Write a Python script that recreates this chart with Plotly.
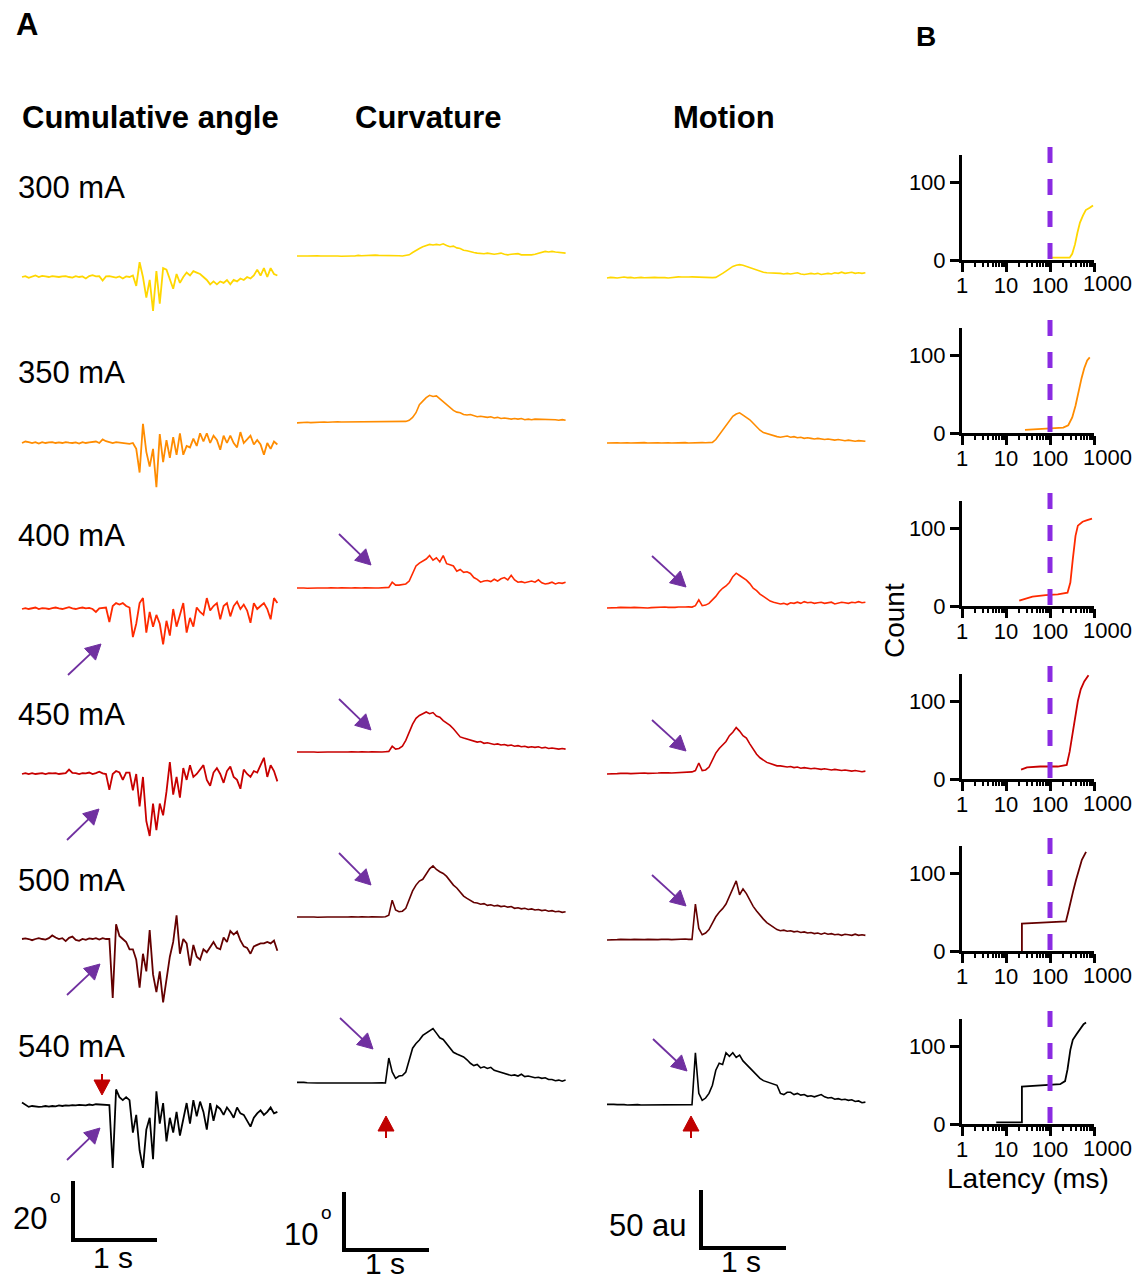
import math
import plotly.graph_objects as go

W, H = 1144, 1283
DT = 0.04  # sampling step of the traces (s)

currents = ["300 mA", "350 mA", "400 mA", "450 mA", "500 mA", "540 mA"]
colors = ["#FFD700", "#FF8C00", "#FF2A00", "#C80000", "#640000", "#000000"]

# ---------------- Panel A: cumulative angle (deg) ----------------
angle_300 = [0, 0.3, -0.3, 0.2, 0.5, 0, 0.4, 0.2, 0, 0.3, 0.1, 0, 0.2, 0.3, 0, -0.2, 0.3, 0, 0.2, -0.5,
             0.3, 0.6, 0.2, 0.3, -1.2, 0.2, 0.3, 0, -0.2, 0.2, -0.5, 0.2, 0, 0.5,
             -3, 5, 0, -7, -1, -11.5, 2, -9, 3, 2.5, -1, -4, 1, -2, 0, 1.5, 0.5, 2, 1.5, 1, 0, -1, -2.5,
             -1.5, -2.5, -1.5, -2, -1, -2.5, -1, -1.5, -0.5, -1, 0, -0.5, 0.5, 2.5, 0.5, 3, 0, 3, 1, 0.5]
angle_350 = [0, 0.5, 0.3, 0, 0.3, -0.2, 0.3, 0, 0.2, 0.3, 0, 0.2, 0, 0.3, 0.1, 0, 0.2, -0.2, 0.3, 0,
             0.2, 0.3, 0.5, 0, 1.2, 0.6, 0.3, 0, 0.3, 0.2, 0, 0, -0.3,
             0, -2, -10, 6.5, -3, -8, -2, -15, 3, -6.5, 1, -5, 2, -4, 3.3, -4, -1, -1.5, 1.5, -1, 3.3,
             0.5, 3.3, 0, 2.5, 1, -2.3, 2.5, 0, 2.5, 0, -1.5, 3.7, 0, 1.2, 2.5, -0.5, 1, -0.5, -4, 0,
             -2, 0.5, -0.5]
angle_400 = [0, 0.3, 0, 0.3, 0.5, 0, 0.3, 0.2, 0, 0.3, 0.5, 0.2, 0, 0.3, 0.6, 0.2, 0, 0.3, 0.5, 0.2,
             0.4, 0, -1, 0.2, 0.3, 0.5,
             -4.4, 1, 2, 1.5, 2, 1, 0.5, -9.5, -5, 2, 3.7, -8, -1, -6, -2, -5, -12, -4, -9, 0, -6, -2,
             2, -8, -3, -6, 0.5, -1, -2, 3.7, -0.5, 1, 2, -3.5, 1, 2, -2.5, 1, 2.5, 0, 1.5, -0.5, -4.7,
             2, 0, 1, 2, 0, -3.5, 3.7, 2]
angle_450 = [0, 0.3, 0, 0.3, 0, 0.2, 0.3, 0, 0.3, 0.2, 0.3, 0, 0.2, 0.3, 1.5, 0.4, 0.3, 0, 0.3, 0.2,
             0.5, 0, 0.3, 0.8, 0.2, 0,
             -5.4, 0, 1, 0.5, -2, 0.5, 0.5, -5.5, 0, -11, -1, -16, -21, -10, -19, -10, -14, -6, 4, -7,
             -1, -8, 2, -2, 3, -1, 0, 1.5, 3, -2, -4, 0.5, 2, 0, -3, 1, 2.5, -1, -2, -5, 1.5, 0, -1, 1,
             0.5, 3, 5.5, -1, 3, 1, -2.5]
angle_500 = [0, 0.2, 0, -0.4, 0, 0.3, 0, -0.2, 0.3, 1.2, 0.5, 0, 0.3, -0.7, 0.4, 0.8, -0.3, -0.6, 0,
             -0.3, 0.2, 0, 0.3, -0.2, 0.3, 0,
             0, -20, 5, 1, 0, -1, -3.5, -3.5, -7, -16.5, -5, -11, 3, -12, -18, -11, -21.5, -13, -6, -1,
             8, -5, 0, -1.5, -9, -2, -6, -7, -3.5, -4.5, -2.5, -1, -3, -3.5, 0.5, -1, 2.7, 1.5, 2.5,
             -0.5, -2.5, -3, -5, -2.5, -2, -1.5, -1.5, -1, -1.5, -0.5, -4]
angle_540 = [1.2, 0.5, -0.3, 0, -0.2, -0.3, -0.2, 0, -0.2, 0, -0.1, 0.2, 0, 0.2, 0.1, 0.3, 0.2, 0.4,
             0.3, 0.2, 0.5, 0.3, 0.6, 0.5, 0.3, 0.4,
             0.3, -21, 5.6, 3, 2, 3, 2, -9, -3, -15, -21, -8, -4, -18, 5, -6, 1, -12, -4, -9, -2, -10,
             -4, 1, -6, 2, -3.5, 1.5, -2, -8, 1, -5, 0, -1, -3, -0.5, -2, -4, -0.5, -2.5, -3, -5, -7,
             -4, -2.5, -1.5, -3, -2, -0.5, -2.5, -2]

# ---------------- Panel A: curvature (deg) ----------------
curv_300 = [0, 0.05, 0, 0, 0.05, 0.1, 0.05, 0, 0.05, 0, 0, 0.05, 0, -0.05, 0, 0.05, 0, 0, 0.1, 0.05,
            0.1, 0.15, 0.1, 0.15, 0.1, 0.1, 0.15, 0.1, 0.15, 0.1, 0.05, 0, 0.05,
            0.2, 0.6, 1.0, 1.3, 1.6, 1.8, 2.0, 1.9, 2.0, 1.9, 2.1, 1.8, 1.6, 1.7, 1.4, 1.3, 1.0, 0.9,
            0.7, 0.6, 0.5, 0.4, 0.4, 0.5, 0.4, 0.3, 0.4, 0.5, 0.3, 0.2, 0.3, 0.3, 0.4, 0.2, 0.2, 0.1,
            0.2, 0.3, 0.5, 0.6, 0.8, 0.7, 0.8, 0.7, 0.6, 0.6, 0.5]
curv_350 = [-0.15, -0.1, -0.1, -0.05, -0.1, -0.05, 0, -0.05, 0, -0.05, 0, 0, 0.05, 0, 0, 0.05, 0,
            0.05, 0, 0, 0.05, 0, 0.05, 0.05, 0, 0.05, 0, 0.05, 0.05, 0, 0.05, 0.1, 0.1,
            0.3, 0.8, 1.6, 3.0, 3.6, 4.2, 4.6, 4.4, 4.5, 4.0, 3.6, 3.0, 2.6, 2.0, 1.7, 1.6, 1.3, 1.2,
            1.3, 1.1, 0.9, 1.0, 0.9, 0.8, 0.9, 0.7, 0.8, 0.6, 0.7, 0.6, 0.5, 0.6, 0.5, 0.6, 0.4, 0.5,
            0.4, 0.5, 0.5, 0.4, 0.5, 0.4, 0.5, 0.4, 0.3, 0.4, 0.3]
curv_400 = [0, 0.05, 0, -0.05, 0, 0.05, 0, 0, -0.05, 0, 0.05, 0, 0, 0.05, 0, -0.05, 0, 0.05, 0, 0,
            0.05, 0, 0.05, 0, 0, 0.05, 0.05, 0.1,
            1.0, 0.5, 0.5, 0.6, 0.7, 1.2, 2.5, 3.8, 4.3, 4.6, 5.0, 5.6, 4.8, 5.2, 4.5, 5.6, 4.2, 4.0,
            3.8, 2.9, 3.2, 2.7, 2.8, 2.5, 1.8, 1.5, 1.0, 1.2, 1.3, 1.1, 1.5, 1.2, 1.6, 1.8, 1.4, 2.2,
            1.4, 1.0, 1.1, 0.9, 1.0, 1.2, 1.0, 1.4, 0.9, 0.7, 0.8, 1.0, 0.7, 0.9, 0.8, 1.0]
curv_450 = [0, 0.05, 0, 0, 0.05, 0, -0.05, 0, 0.05, 0, 0, 0.05, 0, 0, -0.05, 0, 0.05, 0, 0, 0.05,
            0, 0, 0.05, 0, 0.05, 0, 0.05, 0.1,
            1.0, 0.5, 0.6, 1.0, 2.0, 3.5, 4.8, 5.8, 6.3, 6.6, 6.9, 6.6, 6.8, 6.2, 6.0, 5.4, 5.0, 4.6,
            4.0, 3.2, 2.6, 2.4, 2.2, 2.0, 1.9, 1.7, 1.8, 1.5, 1.6, 1.4, 1.3, 1.4, 1.2, 1.3, 1.1, 1.2,
            1.0, 1.1, 0.9, 1.0, 0.8, 0.9, 0.8, 0.9, 0.7, 0.8, 0.6, 0.7, 0.6, 0.5, 0.6, 0.5]
curv_500 = [0, 0.05, 0, 0, 0.05, 0, -0.05, 0, 0.05, 0, 0, 0.05, 0, 0, -0.05, 0, 0.05, 0, 0, 0.05,
            0, 0, 0.05, 0, 0.05, 0, 0.05,
            0.3, 2.9, 1.2, 0.9, 1.0, 1.5, 3.0, 4.5, 5.5, 6.2, 6.5, 7.5, 8.3, 8.8, 8.2, 7.8, 7.5, 7.0,
            6.2, 5.5, 5.0, 4.2, 3.6, 3.2, 2.8, 2.5, 2.4, 2.2, 2.3, 2.0, 2.1, 1.9, 2.0, 1.8, 1.9, 1.7,
            1.8, 1.5, 1.6, 1.4, 1.5, 1.3, 1.4, 1.2, 1.3, 1.1, 1.2, 1.0, 1.1, 0.9, 1.0, 0.8, 0.9]
curv_540 = [0.1, 0.15, 0.1, 0.05, 0, 0.05, 0, 0, 0.05, 0, 0, 0.05, 0, 0, 0.05, 0, 0, 0.05, 0, 0,
            0.05, 0, 0, 0.05, 0, 0.05, 0,
            4.3, 1.9, 0.8, 1.2, 1.3, 1.9, 4.0, 6.0, 6.8, 7.4, 8.2, 8.6, 9.0, 9.4, 8.6, 7.8, 7.5, 6.8,
            6.0, 5.3, 5.0, 4.8, 4.5, 4.0, 3.4, 3.0, 3.2, 2.6, 2.8, 2.5, 2.7, 2.2, 2.0, 1.9, 1.6, 1.5,
            1.3, 1.4, 1.2, 1.5, 1.1, 1.2, 1.1, 0.9, 1.0, 0.8, 0.9, 0.6, 0.6, 0.4, 0.5, 0.3, 0.5]

# ---------------- Panel A: motion (au) ----------------
motion_300 = [0, 0.5, 0.3, 0, 0.5, 0.8, 0.3, 0.5, 0, 0.3, 0.5, 0.2, 0.5, 0.8, 0.5, 0.3, 0.5, 0.3, 0,
              0.5, 0.8, 1, 0.8, 0.5, 0.8, 1, 0.8, 0.5, 0.8, 0.5, 0.5, 0.3,
              0.5, 2, 4, 6, 8, 10, 11, 11.5, 11, 10, 9, 7.5, 6.5, 5.5, 5, 4.5, 4.5, 4, 4.5, 4, 3.5, 4,
              3.5, 4, 4.5, 3.5, 3, 3.5, 4, 3.5, 4, 3, 3.5, 4, 3.5, 4.5, 4, 5, 4, 4.5, 5, 4, 4.5, 4, 4.5]
motion_350 = [0, 0.2, 0, 0.2, 0, 0.3, 0.2, 0, 0.2, 0, 0.2, 0.3, 0, 0.2, 0, 0.2, 0, 0.3, 0.2, 0, 0.2,
              0, 0.2, 0.3, 0, 0.2, 0, 0.2, 0.3, 0.2, 0.3,
              0.5, 3, 7, 12, 16, 20, 23, 25, 26, 24, 22, 20, 17, 14, 11, 9, 8, 7, 6, 5.5, 5, 5.5, 6, 5,
              5.5, 4.5, 5, 4, 4.5, 4, 3.5, 4, 3.5, 3, 3.5, 3, 2.5, 3, 2.5, 2, 2.5, 2, 1.5, 2, 1.5, 1.5]
motion_400 = [0, 0.3, 0, 0.3, 0.5, 0.3, 0, 0.3, 0.5, 0.3, 0.5, 0.3, 0, 0.3, 0.5, 0.3, 0.5, 0.8, 0.5,
              0.3, 0.5, 0.8, 0.5, 0.8, 1, 0.8,
              2, 7, 2, 2.5, 4, 7, 10, 14, 17, 19, 22, 27, 30, 28, 26, 24, 21, 17, 15, 12, 10, 8, 6, 5,
              4, 3.5, 4, 3, 4.5, 4, 5, 4, 5.5, 4.5, 5, 4, 4.5, 5, 4, 4.5, 5, 3.5, 4, 5, 4.5, 4, 5, 4.5,
              5.5, 4.5, 5]
motion_450 = [0, 0.3, 0.5, 0.3, 0.5, 0.8, 0.5, 0.3, 0.5, 0.8, 1, 0.8, 0.5, 0.8, 1, 0.8, 1, 1.3, 1,
              0.8, 1, 1.3, 1.5, 1.3, 1.5, 1.8,
              3, 9.5, 3, 3.5, 6, 12, 18, 22, 25, 28, 33, 36, 40, 37, 33, 31, 26, 21, 17, 14, 12, 10, 9,
              8, 7, 7, 6.5, 6, 6.5, 5.5, 6, 5, 5.5, 5, 4.5, 5, 4.5, 4, 4.5, 4, 3.5, 4, 3.5, 3, 3.5, 3,
              2.5, 3, 2.5, 2, 2.5]
motion_500 = [0, 0.3, 0, 0.3, 0.5, 0.3, 0, 0.3, 0.5, 0.3, 0, 0.3, 0.5, 0.3, 0.5, 0.3, 0.5, 0.8, 0.5,
              0.3, 0.5, 0.8, 0.5, 0.8, 0.5, 0.5,
              31, 10, 4.5, 6, 9, 15, 20, 24, 27, 31, 38, 45, 51, 39, 44, 40, 34, 29, 25, 21, 18, 15, 13,
              11, 9, 8, 8.5, 7.5, 8, 7, 7.5, 6.5, 7, 6, 6.5, 5.5, 6, 5, 6, 5, 5.5, 4.5, 5, 4, 5, 4.5, 4,
              5, 4, 4.5, 4]
motion_540 = [0.5, 0.8, 0.5, 0.3, 0.5, 0.3, 0, 0.3, 0, 0.3, 0, 0, 0.3, 0, 0, 0.3, 0, 0, 0.3, 0, 0,
              0.3, 0, 0.3, 0, 0.3,
              45, 10, 4, 6, 10, 17, 30, 36, 35, 45, 42, 45, 41, 43, 38, 35, 32, 29, 26, 23, 21, 20, 19,
              18, 17, 10, 9, 11, 11, 9, 10, 8.5, 9, 7.5, 8, 7, 8, 9, 7, 6, 6.5, 5, 5.5, 4.5, 5, 4, 4.5,
              3, 3.5, 2, 2.5]

# ---------------- Panel B: cumulative latency counts ----------------
lat_300 = [110, 280, 320, 370, 420, 480, 560, 650, 800, 950]
cnt_300 = [3, 3, 8, 20, 35, 48, 57, 64, 67, 70]
lat_350 = [27, 60, 100, 200, 260, 320, 380, 450, 520, 600, 700, 800]
cnt_350 = [4, 5, 6, 7, 10, 20, 35, 55, 70, 83, 93, 97]
lat_400 = [20, 40, 80, 150, 250, 290, 330, 380, 430, 550, 700, 900]
cnt_400 = [7, 12, 14, 15, 17, 30, 60, 90, 103, 108, 110, 112]
lat_450 = [22, 30, 60, 150, 240, 280, 330, 380, 430, 500, 600, 750]
cnt_450 = [12, 15, 16, 16, 18, 35, 60, 85, 100, 115, 125, 133]
lat_500 = [23, 23, 50, 100, 230, 260, 290, 340, 390, 460, 530, 660]
cnt_500 = [0, 35, 36, 37, 38, 50, 60, 78, 91, 105, 117, 127]
lat_540 = [6, 23, 23, 50, 100, 170, 220, 250, 290, 330, 400, 480, 580, 660]
cnt_540 = [2, 2, 48, 49, 50, 51, 55, 70, 95, 108, 115, 122, 128, 130]

latency_threshold = 100
x_ticks = [1, 10, 100, 1000]
y_ticks = [0, 100]

# ====================== layout helpers ======================
def px(x):
    return x / W


def py(y):
    return 1 - y / H


FONT = "Arial, Liberation Sans, Helvetica, sans-serif"
PURPLE = "#7030A0"
RED = "#C00000"

columns = [
    dict(title="Cumulative angle", tx=150, x0=22, pps=84, ppu=2.95, L=8, R=290, lw=1.8,
         base=[277, 443, 609, 774, 939, 1106],
         data=[angle_300, angle_350, angle_400, angle_450, angle_500, angle_540],
         bar=(73, 1240), scale=20, unit="20", unit_sup=True, ulx=49, uly=1218,
         slx=113, sly=1257),
    dict(title="Curvature", tx=428, x0=297, pps=85, ppu=5.8, L=292, R=582, lw=1.6,
         base=[256, 422, 588, 752, 917, 1083],
         data=[curv_300, curv_350, curv_400, curv_450, curv_500, curv_540],
         bar=(344, 1250), scale=10, unit="10", unit_sup=True, ulx=320, uly=1234,
         slx=385, sly=1263),
    dict(title="Motion", tx=724, x0=607, pps=85, ppu=1.16, L=595, R=880, lw=1.6,
         base=[278, 443, 608, 774, 940, 1105],
         data=[motion_300, motion_350, motion_400, motion_450, motion_500, motion_540],
         bar=(701, 1248), scale=50, unit="50 au", unit_sup=False, ulx=689, uly=1225,
         slx=741, sly=1261),
]
TOP, BOT = 140, 1282

fig = go.Figure()
layout = {}
shapes = []
annotations = []


def text(s, x, y, size=31, bold=False, xanchor="center", yanchor="middle", angle=0):
    annotations.append(dict(text=f"<b>{s}</b>" if bold else s, x=px(x), y=py(y), xref="paper",
                            yref="paper", showarrow=False, xanchor=xanchor, yanchor=yanchor,
                            textangle=angle, font=dict(family=FONT, size=size, color="black")))


for c, col in enumerate(columns):
    ax = "" if c == 0 else str(c + 1)
    for r, vals in enumerate(col["data"]):
        t = [i * DT for i in range(len(vals))]
        off = -col["base"][r] / col["ppu"]
        fig.add_trace(go.Scatter(x=t, y=[v + off for v in vals], mode="lines",
                                 line=dict(color=colors[r], width=col["lw"]),
                                 xaxis="x" + ax, yaxis="y" + ax, showlegend=False,
                                 hoverinfo="skip"))
    layout["xaxis" + ax] = dict(domain=[px(col["L"]), px(col["R"])],
                                range=[(col["L"] - col["x0"]) / col["pps"],
                                       (col["R"] - col["x0"]) / col["pps"]],
                                visible=False, anchor="y" + ax, automargin=False)
    layout["yaxis" + ax] = dict(domain=[py(BOT), py(TOP)],
                                range=[-BOT / col["ppu"], -TOP / col["ppu"]],
                                visible=False, anchor="x" + ax, automargin=False)
    # scale bar: 1 s horizontally and `scale` units vertically
    bx = (col["bar"][0] - col["x0"]) / col["pps"]
    by = -col["bar"][1] / col["ppu"]
    shapes.append(dict(type="path", xref="x" + ax, yref="y" + ax,
                       path=f"M {bx},{by + col['scale']} L {bx},{by} L {bx + 1},{by}",
                       line=dict(color="black", width=4)))
    text(col["unit"], col["ulx"], col["uly"], xanchor="right")
    if col["unit_sup"]:
        text("o", col["ulx"] + 6, col["uly"] - 22, size=19, xanchor="center")
    text("1 s", col["slx"], col["sly"], size=30)
    text(col["title"], col["tx"], 117, bold=True)

for r, lab in enumerate(currents):
    text(lab, 16, [187, 372, 535, 714, 880, 1046][r], xanchor="left")

text("A", 27, 25, bold=True)
text("B", 926, 36, size=28, bold=True)


# ---------------- arrows ----------------
def arrow(tail, tip, color, head_len=15, head_w=16, width=1.8):
    dx, dy = tip[0] - tail[0], tip[1] - tail[1]
    d = math.hypot(dx, dy)
    ux, uy = dx / d, dy / d
    bx, by = tip[0] - ux * head_len, tip[1] - uy * head_len
    nx, ny = -uy, ux
    p1 = (bx + nx * head_w / 2, by + ny * head_w / 2)
    p2 = (bx - nx * head_w / 2, by - ny * head_w / 2)
    shapes.append(dict(type="line", xref="paper", yref="paper", x0=px(tail[0]), y0=py(tail[1]),
                       x1=px(bx + ux * 3), y1=py(by + uy * 3), line=dict(color=color, width=width)))
    shapes.append(dict(type="path", xref="paper", yref="paper",
                       path=(f"M {px(tip[0])},{py(tip[1])} L {px(p1[0])},{py(p1[1])} "
                             f"L {px(p2[0])},{py(p2[1])} Z"),
                       fillcolor=color, line=dict(color=color, width=1)))


purple_arrows = [
    ((68, 675), (101, 644)), ((67, 840), (99, 809)), ((67, 995), (100, 964)), ((67, 1160), (100, 1128)),
    ((339, 534), (371, 565)), ((339, 699), (371, 730)), ((339, 853), (371, 885)), ((340, 1018), (373, 1049)),
    ((652, 556), (686, 587)), ((652, 720), (686, 751)), ((652, 875), (686, 906)), ((653, 1039), (687, 1071)),
]
for tail, tip in purple_arrows:
    arrow(tail, tip, PURPLE)
for tail, tip in [((102, 1074), (102, 1095)), ((386, 1138), (386, 1116)), ((691, 1138), (691, 1116))]:
    arrow(tail, tip, RED, head_len=15, head_w=16, width=2)

# ---------------- Panel B ----------------
lat = [lat_300, lat_350, lat_400, lat_450, lat_500, lat_540]
cnt = [cnt_300, cnt_350, cnt_400, cnt_450, cnt_500, cnt_540]
zeros = [260, 433, 606, 779, 951, 1124]
minor_vals = [m * 10 ** e for e in range(3) for m in range(2, 10)]
for r in range(6):
    k = str(r + 4)
    fig.add_trace(go.Scatter(x=lat[r], y=cnt[r], mode="lines", line=dict(color=colors[r], width=1.8),
                             xaxis="x" + k, yaxis="y" + k, showlegend=False, hoverinfo="skip"))
    z = zeros[r]
    layout["xaxis" + k] = dict(
        domain=[px(962), px(1094)], type="log", range=[0, 3], anchor="y" + k,
        tickmode="array", tickvals=x_ticks,
        ticktext=[str(v) if v < 1000 else "" for v in x_ticks],
        tickangle=0, automargin=False, ticklabelstandoff=-5,
        ticks="outside", ticklen=9, tickwidth=3, tickcolor="black",
        showline=True, linewidth=3, linecolor="black", showgrid=False, zeroline=False,
        tickfont=dict(family=FONT, size=22, color="black"),
        minor=dict(tickmode="array", tickvals=minor_vals, ticks="outside", ticklen=4,
                   tickwidth=1.5, tickcolor="black", showgrid=False))
    layout["yaxis" + k] = dict(
        domain=[py(z), py(z - 105.3)], range=[0, 135], anchor="x" + k, automargin=False,
        tickmode="array", tickvals=y_ticks, ticks="outside", ticklen=9, tickwidth=3,
        tickcolor="black", showline=True, linewidth=3, linecolor="black", showgrid=False,
        zeroline=False, tickfont=dict(family=FONT, size=22, color="black"))
    shapes.append(dict(type="line", xref="x" + k, yref="paper", x0=latency_threshold,
                       x1=latency_threshold, y0=py(z - 113), y1=py(z),
                       line=dict(color="#8A2BE2", width=5, dash="16px,16px")))
    # the last tick label sits a little to the right of its tick, as in the original
    text(str(x_ticks[-1]), 1107, z + 24, size=22)

text("Count", 895, 620, size=28, angle=-90)
text("Latency (ms)", 1028, 1178, size=28)

fig.update_layout(width=W, height=H, margin=dict(l=0, r=0, t=0, b=0, autoexpand=False),
                  paper_bgcolor="white", plot_bgcolor="rgba(0,0,0,0)",
                  shapes=shapes, annotations=annotations, showlegend=False,
                  font=dict(family=FONT, color="black"), **layout)
fig.write_html("out.html")
